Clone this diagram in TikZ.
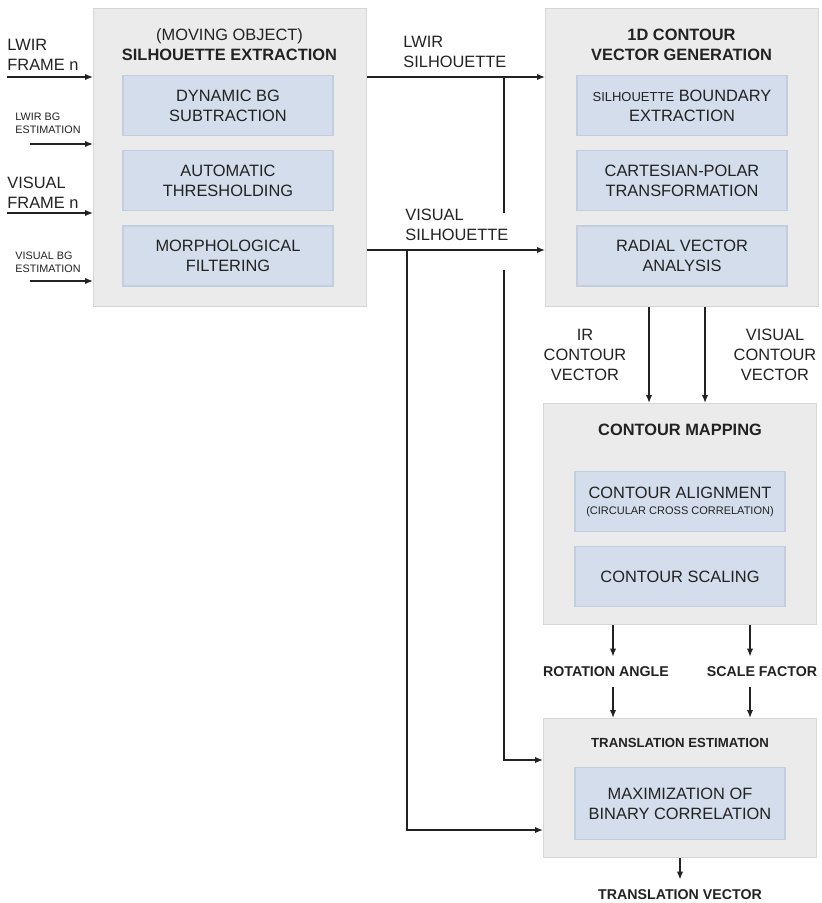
\documentclass[tikz,border=0pt]{standalone}
\usepackage{fontspec}
\setmainfont{Liberation Sans}
\usetikzlibrary{arrows.meta,positioning}
\definecolor{blockgray}{HTML}{EBEBEB}
\definecolor{blockline}{HTML}{D6D6D6}
\definecolor{stepblue}{HTML}{D3DDEC}
\definecolor{stepline}{HTML}{C2CEE0}
\definecolor{ink}{HTML}{222222}

\begin{document}
\begin{tikzpicture}[
    x=0.5pt, y=-0.5pt,
    node distance=7pt,
    font=\fontsize{8.2}{10}\selectfont,
    text=ink,
    block/.style={draw=blockline,fill=blockgray,line width=.6pt,
      minimum width=136.5pt,anchor=north west,inner sep=0pt},
    inbox/.style={draw=stepline,fill=stepblue,line width=.6pt,
      minimum width=105pt,minimum height=30pt,align=center,inner sep=1pt},
    title/.style={align=center,font=\fontsize{8.2}{10}\selectfont\bfseries},
    lbl/.style={align=left,anchor=west,inner sep=0pt},
    tiny/.style={lbl,font=\fontsize{5.4}{6.5}\selectfont},
    result/.style={font=\fontsize{7.1}{9}\selectfont\bfseries,inner sep=5pt},
    line/.style={line width=.7pt,draw=ink},
    flow/.style={line,-{Latex[length=4pt,width=3.2pt]}}
  ]
    \useasboundingbox (0,0) rectangle (821,903);

    % the four blocks
    \node[block,minimum height=149pt] (sil) at (93,8) {};
    \node[block,minimum height=149pt] (vec) at (545,8) {};
    \node[block,minimum height=110.5pt] (map) at (543,403) {};
    \node[block,minimum height=69.5pt] (trans) at (543,718) {};

    \node[align=center] (silttl) at (229.5,45)
      {(MOVING OBJECT)\\\textbf{SILHOUETTE EXTRACTION}};
    \node[title] (vecttl) at (681.5,45) {1D CONTOUR\\VECTOR GENERATION};
    \node[title] (mapttl) at (680,430) {CONTOUR MAPPING};
    \node[title,font=\fontsize{6.6}{8}\selectfont\bfseries] (transttl)
      at (680,743) {TRANSLATION ESTIMATION};

    % steps inside the blocks
    \node[inbox,anchor=north] (dbg) at (228,75) {DYNAMIC BG\\SUBTRACTION};
    \node[inbox,below=of dbg] (thr) {AUTOMATIC\\THRESHOLDING};
    \node[inbox,below=of thr] (morph) {MORPHOLOGICAL\\FILTERING};

    \node[inbox,anchor=north] (bnd) at (682,75)
      {{\fontsize{6.5}{10}\selectfont SILHOUETTE} BOUNDARY\\EXTRACTION};
    \node[inbox,below=of bnd] (polar) {CARTESIAN-POLAR\\TRANSFORMATION};
    \node[inbox,below=of polar] (radial) {RADIAL VECTOR\\ANALYSIS};

    \node[inbox,anchor=north] (align) at (680,471)
      {CONTOUR ALIGNMENT\\[-2pt]{\fontsize{5.5}{7}\selectfont (CIRCULAR CROSS CORRELATION)}};
    \node[inbox,below=of align] (scaling) {CONTOUR SCALING};
    \node[inbox,anchor=north,minimum height=36pt] (maxcorr) at (680,767)
      {MAXIMIZATION OF\\BINARY CORRELATION};

    % inputs
    \node[lbl] (lwirin) at (7,55) {LWIR\\FRAME n};
    \node[tiny] (lwirbg) at (15,123) {LWIR BG\\ESTIMATION};
    \node[lbl] (visin) at (7,193) {VISUAL\\FRAME n};
    \node[tiny] (visbg) at (15,262) {VISUAL BG\\ESTIMATION};
    \coordinate (a1) at (7,77);
    \coordinate (a2) at (30,144);
    \coordinate (a3) at (7,213);
    \coordinate (a4) at (30,281);
    \foreach \c in {a1,a2,a3,a4}
      \draw[flow] (\c) -- (\c -| sil.west);

    % silhouettes
    \coordinate (vo) at (366,250);
    \node[lbl] (lwirsil) at (403,52) {LWIR\\SILHOUETTE};
    \node[lbl] (vissil) at (405,225) {VISUAL\\SILHOUETTE};
    \draw[flow] (sil.east |- a1) -- (vec.west |- a1);
    \draw[flow] (sil.east |- vo) -- (vec.west |- vo);

    \coordinate (lb) at (504,77);
    \coordinate (lbgap) at (504,213);
    \coordinate (lbres) at (504,270);
    \coordinate (lbend) at (504,760);
    \coordinate (vb) at (407,250);
    \coordinate (vbend) at (407,830);
    \draw[line] (lb) -- (lbgap);
    \draw[flow] (lbres) |- (trans.west |- lbend);
    \draw[flow] (vb) |- (trans.west |- vbend);

    % contour vectors
    \coordinate (irx) at (649,0);
    \coordinate (visx) at (705,0);
    \node[align=center] (irlab) at (585,355) {IR\\CONTOUR\\VECTOR};
    \node[align=center] (vislab) at (775,355) {VISUAL\\CONTOUR\\VECTOR};
    \draw[flow] (vec.south -| irx) -- (map.north -| irx);
    \draw[flow] (vec.south -| visx) -- (map.north -| visx);

    % results
    \coordinate (rx) at (613,0);
    \coordinate (sx) at (750,0);
    \node[result] (rot) at (606,672) {ROTATION ANGLE};
    \node[result] (scl) at (762,672) {SCALE FACTOR};
    \draw[flow] (map.south -| rx) -- (rot.north -| rx);
    \draw[flow] (rot.south -| rx) -- (trans.north -| rx);
    \draw[flow] (map.south -| sx) -- (scl.north -| sx);
    \draw[flow] (scl.south -| sx) -- (trans.north -| sx);

    \node[result] (tvec) at (680,895) {TRANSLATION VECTOR};
    \draw[flow] (trans.south -| tvec) -- (tvec.north);
  \end{tikzpicture}
\end{document}
